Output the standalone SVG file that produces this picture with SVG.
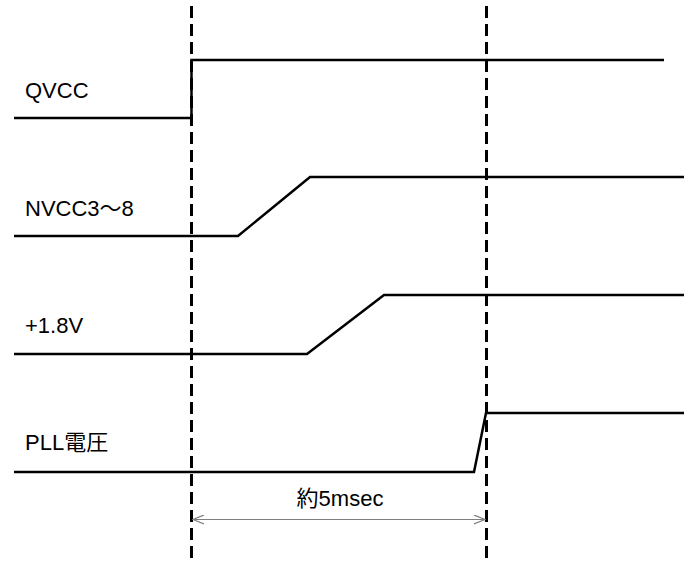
<svg xmlns="http://www.w3.org/2000/svg" width="684" height="562" viewBox="0 0 684 562">
<style>
.sig{fill:none;stroke:#000;stroke-width:2.5;stroke-linejoin:miter}
.guide{stroke:#000;stroke-width:3;stroke-dasharray:12 6;fill:none}
.dim{stroke:#7f7f7f;stroke-width:1.2;fill:none}
.lbl{font-family:"Liberation Sans","Noto Sans CJK JP",sans-serif;font-size:22px;fill:#000}
</style>
<defs>
<marker id="ah" markerWidth="12" markerHeight="10" refX="11" refY="5" orient="auto-start-reverse" markerUnits="userSpaceOnUse">
<path d="M0,0.5 L11,5 L0,9.5" fill="none" stroke="#7f7f7f" stroke-width="1.2"/>
</marker>
</defs>
<rect width="684" height="562" fill="#fff"/>
<g id="guides">
<line class="guide" x1="191.5" y1="6" x2="191.5" y2="562"/>
<line class="guide" x1="486.5" y1="6" x2="486.5" y2="562"/>
</g>
<g id="qvcc">
<text class="lbl" x="25" y="98">QVCC</text>
<polyline class="sig" points="14,118 191.5,118 191.5,60 664,60"/>
</g>
<g id="nvcc">
<text class="lbl" x="25" y="216">NVCC3～8</text>
<polyline class="sig" points="14,236 238,236 310,177 684,177"/>
</g>
<g id="v18">
<text class="lbl" x="25" y="333">+1.8V</text>
<polyline class="sig" points="14,354 307,354 384,295 684,295"/>
</g>
<g id="pll">
<text class="lbl" x="25" y="450">PLL電圧</text>
<polyline class="sig" points="14,472 474,472 486,413 684,413"/>
</g>
<g id="connectors">
<line class="dim" x1="193" y1="519.5" x2="485" y2="519.5" marker-start="url(#ah)" marker-end="url(#ah)"/>
<text class="lbl" x="340" y="506" text-anchor="middle">約5msec</text>
</g>
</svg>
